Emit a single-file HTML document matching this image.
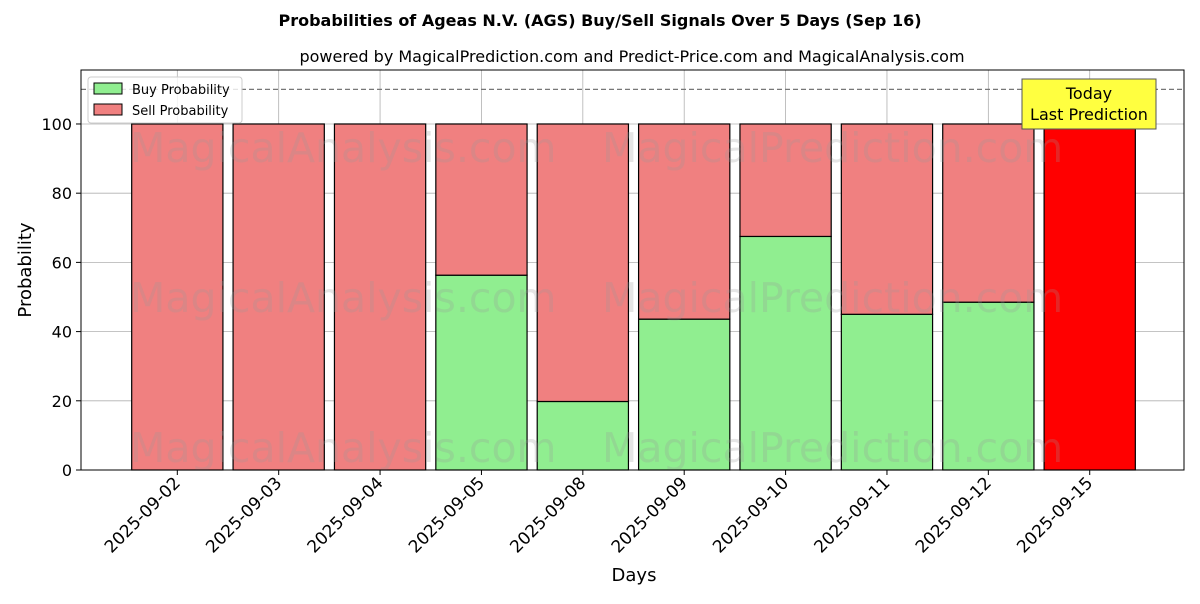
<!DOCTYPE html>
<html><head><meta charset="utf-8"><style>
body{margin:0;background:#fff;font-family:"DejaVu Sans","Liberation Sans",sans-serif}
svg text{font-family:"DejaVu Sans","Liberation Sans",sans-serif}
</style></head><body>
<svg id="c" width="1200" height="600" xmlns="http://www.w3.org/2000/svg">
<text x="600" y="26" text-anchor="middle" font-size="16" font-weight="bold">Probabilities of Ageas N.V. (AGS) Buy/Sell Signals Over 5 Days (Sep 16)</text>
<text x="632" y="62" text-anchor="middle" font-size="16">powered by MagicalPrediction.com and Predict-Price.com and MagicalAnalysis.com</text>
<g id="grid"></g>
<g id="bars"></g>
<g id="wm" fill="#999" fill-opacity="0.25" font-size="41">
<text x="130" y="162">MagicalAnalysis.com</text><text x="602" y="162">MagicalPrediction.com</text>
<text x="130" y="312">MagicalAnalysis.com</text><text x="602" y="312">MagicalPrediction.com</text>
<text x="130" y="462">MagicalAnalysis.com</text><text x="602" y="462">MagicalPrediction.com</text>
</g>
<g id="axes"></g>
<text x="634" y="581" text-anchor="middle" font-size="18">Days</text>
<text transform="translate(31,270) rotate(-90)" text-anchor="middle" font-size="18">Probability</text>
<g>
<rect x="88" y="77" width="154" height="46" fill="#fff" fill-opacity="0.8" stroke="#ccc" rx="3"/>
<rect x="94" y="83" width="28" height="11" fill="#90ee90" stroke="#000"/>
<text x="132" y="94" font-size="13">Buy Probability</text>
<rect x="94" y="104" width="28" height="11" fill="#f08080" stroke="#000"/>
<text x="132" y="115" font-size="13">Sell Probability</text>
</g>
<g>
<rect x="1022" y="79" width="134" height="50" fill="#ffff40" stroke="#555"/>
<text x="1089" y="99" text-anchor="middle" font-size="16">Today</text>
<text x="1089" y="120" text-anchor="middle" font-size="16">Last Prediction</text>
</g>
</svg>
<script>
const categories=["2025-09-02","2025-09-03","2025-09-04","2025-09-05","2025-09-08","2025-09-09","2025-09-10","2025-09-11","2025-09-12","2025-09-15"];
const buyValues=[0,0,0,56.3,19.8,43.6,67.5,45,48.5,0];
const sellValues=[100,100,100,43.7,80.2,56.4,32.5,55,51.5,100];
const yTicks=[0,20,40,60,80,100];
const L=81,R=1184,T=70,B=470,yMax=115.6,xMin=-0.95,xMax=9.93;
const X=i=>L+(i-xMin)/(xMax-xMin)*(R-L);
const Y=v=>B-v/yMax*(B-T);
const NS="http://www.w3.org/2000/svg";
function mk(p,t,a){const e=document.createElementNS(NS,t);for(const k in a)e.setAttribute(k,a[k]);p.appendChild(e);return e;}
const grid=document.getElementById('grid'),bars=document.getElementById('bars'),axes=document.getElementById('axes');
yTicks.forEach(v=>{
 const l=mk(grid,'line',{x1:L,x2:R,y1:Y(v),y2:Y(v),stroke:'#b0b0b0','stroke-width':0.8});
 
 
 mk(axes,'line',{x1:L-5,x2:L,y1:Y(v),y2:Y(v),stroke:'#000'});
 const t=mk(axes,'text',{x:L-9,y:Y(v)+6,'text-anchor':'end','font-size':16});t.textContent=v;
 
 
});
categories.forEach((c,i)=>{
 const l=mk(grid,'line',{x1:X(i),x2:X(i),y1:T,y2:B,stroke:'#b0b0b0','stroke-width':0.8});
 
 
 const w=0.9/(xMax-xMin)*(R-L),x0=X(i)-w/2;
 const last=i===categories.length-1;
 if(buyValues[i]>0){const b=mk(bars,'rect',{x:x0,y:Y(buyValues[i]),width:w,height:Y(0)-Y(buyValues[i]),fill:'#90ee90',stroke:'#000','stroke-width':1.2});
  
  }
 const s=mk(bars,'rect',{x:x0,y:Y(buyValues[i]+sellValues[i]),width:w,height:Y(buyValues[i])-Y(buyValues[i]+sellValues[i]),fill:last?'#ff0000':'#f08080',stroke:'#000','stroke-width':1.2});
 
 
 mk(axes,'line',{x1:X(i),x2:X(i),y1:B,y2:B+5,stroke:'#000'});
 const tx=X(i)+4,ty=B+14;
 const t=mk(axes,'text',{x:tx,y:ty,'text-anchor':'end','font-size':17,transform:`rotate(-45 ${tx} ${ty})`});t.textContent=c;
 
 
});
const d=mk(axes,'line',{x1:L,x2:R,y1:Y(110),y2:Y(110),stroke:'#777','stroke-dasharray':'5,3','stroke-width':1.2});


const f=mk(axes,'rect',{x:L,y:T,width:R-L,height:B-T,fill:'none',stroke:'#000','stroke-width':1});


</script>
</body></html>
